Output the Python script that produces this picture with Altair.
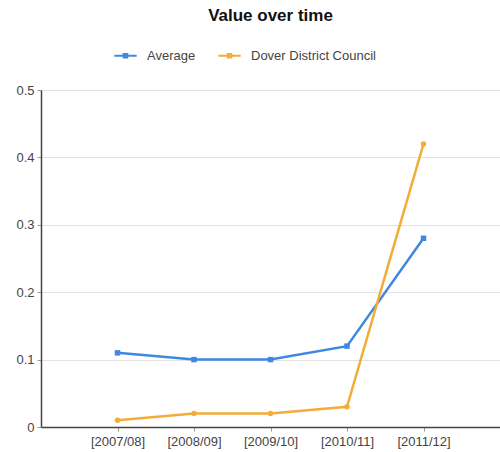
import altair as alt
import pandas as pd

years = ["[2007/08]", "[2008/09]", "[2009/10]", "[2010/11]", "[2011/12]"]
average = [0.11, 0.10, 0.10, 0.12, 0.28]
dover = [0.01, 0.02, 0.02, 0.03, 0.42]
series_names = ["Average", "Dover District Council"]
colors = ["#3f88e0", "#f4ac38"]

rows = []
for y, a, d in zip(years, average, dover):
    rows.append({"year": y, "series": series_names[0], "value": a})
    rows.append({"year": y, "series": series_names[1], "value": d})
df = pd.DataFrame(rows)

font = "Liberation Sans"

base = alt.Chart(df).encode(
    x=alt.X("year:N", sort=years, title=None,
            scale=alt.Scale(type="point", padding=1),
            axis=alt.Axis(labelAngle=0, labelFontSize=13, labelColor="#444",
                          domainColor="#444", domainWidth=1.5, tickColor="#999",
                          tickSize=4, labelPadding=4, grid=False)),
    y=alt.Y("value:Q", title=None,
            scale=alt.Scale(domain=[0, 0.5]),
            axis=alt.Axis(values=[0, 0.1, 0.2, 0.3, 0.4, 0.5], format="~g",
                          labelFontSize=13, labelColor="#444",
                          domainColor="#444", domainWidth=1.5,
                          tickColor="#999", tickSize=4, labelPadding=3,
                          gridColor="#e2e2e2", gridWidth=1)),
    color=alt.Color("series:N", sort=series_names,
                    scale=alt.Scale(domain=series_names, range=colors),
                    legend=alt.Legend(orient="none", direction="horizontal", title=None,
                                      legendX=73, legendY=-46,
                                      labelFontSize=13, labelColor="#444",
                                      symbolType="M-1,-0.1H1V0.1H-1Z M-0.25,-0.25H0.25V0.25H-0.25Z",
                                      symbolSize=500, symbolStrokeWidth=0,
                                      columnPadding=22, labelOffset=10)),
)

lines = base.mark_line(strokeWidth=2.5)
points_avg = base.transform_filter(alt.datum.series == "Average").mark_point(
    shape="square", filled=True, size=30, opacity=1)
points_dov = base.transform_filter(alt.datum.series == "Dover District Council").mark_point(
    shape="circle", filled=True, size=30, opacity=1)

chart = alt.layer(lines, points_avg, points_dov).properties(
    width=459, height=337,
    title=alt.TitleParams("Value over time", fontSize=17, font=font, fontWeight="bold",
                          color="#111", anchor="middle", offset=19),
    autosize=alt.AutoSizeParams(type="none"),
    padding={"left": 41, "top": 90, "right": 0, "bottom": 25},
).configure(font=font).configure_view(stroke=None)

chart.save("out.html", embed_options={"renderer": "svg", "actions": False})
